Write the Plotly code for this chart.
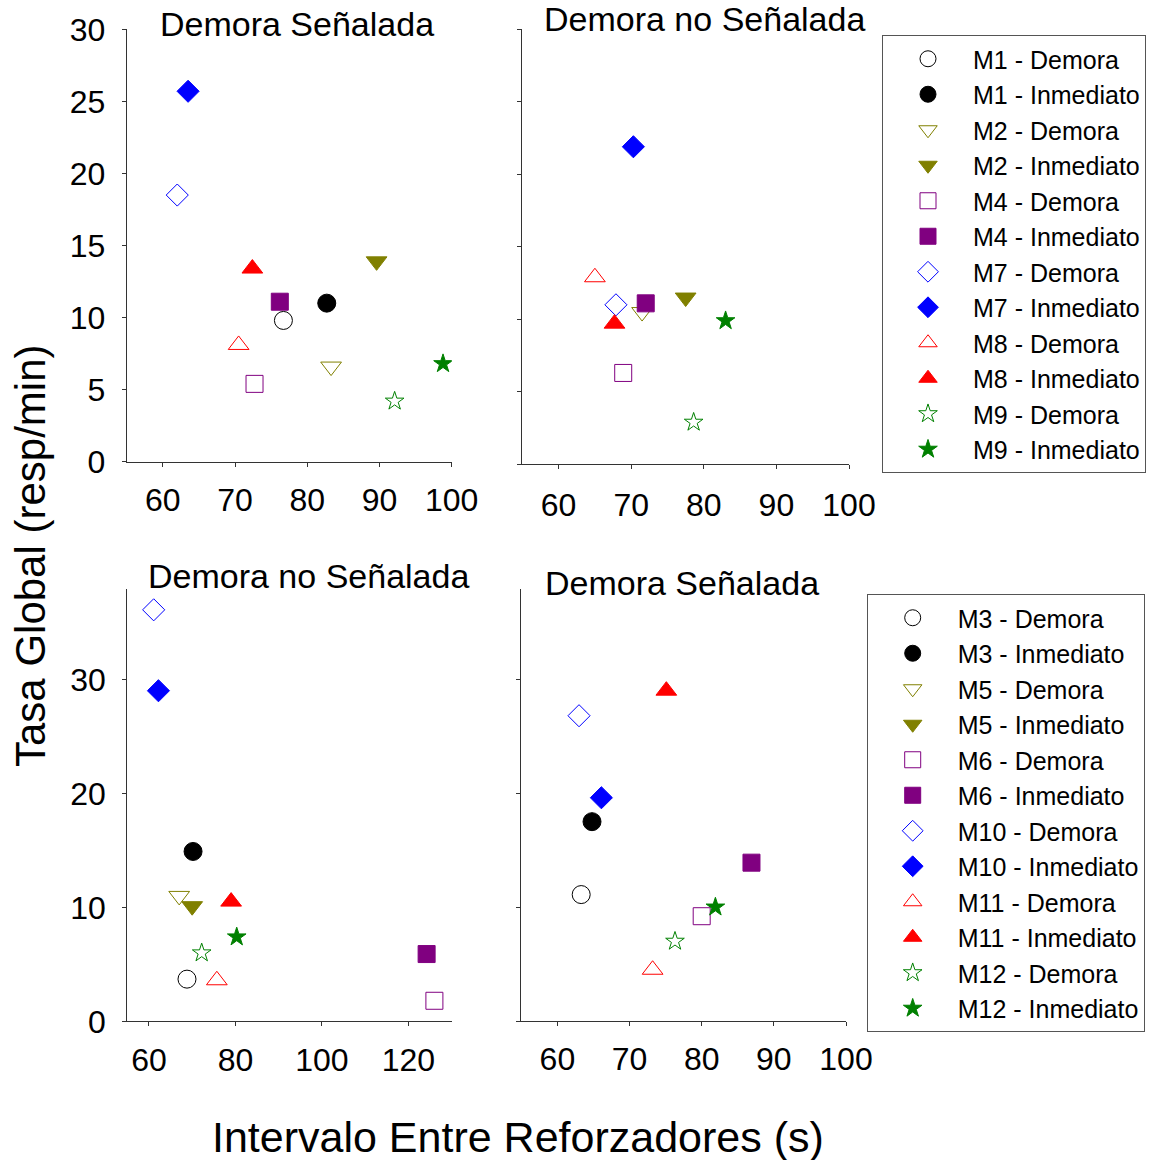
import plotly.graph_objects as go

# ---------------- data ----------------
subjects_top = ["M1", "M2", "M4", "M7", "M8", "M9"]
subjects_bottom = ["M3", "M5", "M6", "M10", "M11", "M12"]

# Panel 1: top-left "Demora Señalada"
p1_demora_x = [76.7, 83.3, 72.7, 62.0, 70.5, 92.1]
p1_demora_y = [9.8, 6.6, 5.4, 18.5, 8.1, 4.2]
p1_inmed_x = [82.7, 89.6, 76.2, 63.5, 72.4, 98.8]
p1_inmed_y = [11.0, 13.9, 11.1, 25.7, 13.4, 6.8]

# Panel 2: top-right "Demora no Señalada"
p2_demora_x = [None, 71.5, 68.9, 67.9, 65.0, 78.6]
p2_demora_y = [None, 10.5, 6.3, 11.0, 12.9, 2.9]
p2_inmed_x = [None, 77.5, 72.0, 70.3, 67.7, 83.0]
p2_inmed_y = [None, 11.5, 11.1, 21.9, 9.7, 9.9]

# Panel 3: bottom-left "Demora no Señalada"
p3_demora_x = [68.8, 67.0, 126.0, 61.1, 75.7, 72.2]
p3_demora_y = [3.7, 11.0, 1.8, 36.1, 3.6, 6.0]
p3_inmed_x = [70.2, 70.0, 124.2, 62.2, 79.0, 80.3]
p3_inmed_y = [14.9, 10.1, 5.9, 29.0, 10.5, 7.4]

# Panel 4: bottom-right "Demora Señalada"
p4_demora_x = [63.3, None, 80.0, 63.0, 73.2, 76.3]
p4_demora_y = [11.1, None, 9.2, 26.8, 4.5, 7.0]
p4_inmed_x = [64.8, None, 86.9, 66.1, 75.1, 81.9]
p4_inmed_y = [17.5, None, 13.9, 19.6, 29.0, 10.0]

subject_colors = ["#000000", "#808000", "#800080", "#0000FF", "#FF0000", "#008000"]
subject_symbols = ["circle", "triangle-down", "square", "diamond", "triangle-up", "star"]
marker_sizes = [18, 18, 17, 17, 18, 14]

panel_titles = ["Demora Señalada", "Demora no Señalada", "Demora no Señalada", "Demora Señalada"]
cond_labels = ["Demora", "Inmediato"]

FONT = "Liberation Sans, Arial, sans-serif"
W, H = 1167, 1160

fig = go.Figure()

panels = [
    ("x", "y", subjects_top, p1_demora_x, p1_demora_y, p1_inmed_x, p1_inmed_y, "legend", True),
    ("x2", "y2", subjects_top, p2_demora_x, p2_demora_y, p2_inmed_x, p2_inmed_y, "legend", False),
    ("x3", "y3", subjects_bottom, p3_demora_x, p3_demora_y, p3_inmed_x, p3_inmed_y, "legend2", True),
    ("x4", "y4", subjects_bottom, p4_demora_x, p4_demora_y, p4_inmed_x, p4_inmed_y, "legend2", False),
]

for xa, ya, subs, dx, dy, ix, iy, leg, show in panels:
    for i, s in enumerate(subs):
        for c, (xs, ys) in enumerate([(dx, dy), (ix, iy)]):
            sym = subject_symbols[i] + ("-open" if c == 0 else "")
            col = subject_colors[i]
            fig.add_trace(go.Scatter(
                x=[xs[i]], y=[ys[i]], mode="markers",
                name=f"{s} - {cond_labels[c]}",
                legendgroup=f"{s}-{c}", showlegend=show, legend=leg,
                xaxis=xa, yaxis=ya,
                marker=dict(symbol=sym, size=marker_sizes[i], color=col,
                            line=dict(width=1, color=col)),
            ))

def px_x(p):
    return p / W

def px_y(p):
    return 1 - p / H

axis_common = dict(showline=True, linecolor="#333333", linewidth=1, ticks="outside",
                   ticklen=4, tickcolor="#333333", showgrid=False, zeroline=False,
                   tickfont=dict(family=FONT, size=32, color="black"))

legend_common = dict(xref="paper", yref="paper", xanchor="left", yanchor="top",
                     bgcolor="white", bordercolor="#555555", borderwidth=1,
                     font=dict(family=FONT, size=25, color="black"),
                     itemwidth=80, tracegroupgap=0)

fig.update_layout(
    width=W, height=H, margin=dict(l=0, r=0, t=0, b=0, autoexpand=False),
    paper_bgcolor="white", plot_bgcolor="white",
    font=dict(family=FONT, color="black"),
    xaxis=dict(domain=[px_x(126.7), px_x(451.7)], range=[55, 100], tickvals=[60, 70, 80, 90, 100],
               anchor="y", ticklabelstandoff=6, **axis_common),
    yaxis=dict(domain=[px_y(461.7), px_y(29.3)], range=[0, 30], tickvals=[0, 5, 10, 15, 20, 25, 30],
               anchor="x", ticklabelstandoff=10, **axis_common),
    xaxis2=dict(domain=[px_x(522.3), px_x(849)], range=[55, 100], tickvals=[60, 70, 80, 90, 100],
                anchor="y2", ticklabelstandoff=8, **axis_common),
    yaxis2=dict(domain=[px_y(464.3), px_y(29.3)], range=[0, 30], tickvals=[0, 5, 10, 15, 20, 25, 30],
                anchor="x2", showticklabels=False, **axis_common),
    xaxis3=dict(domain=[px_x(127.3), px_x(451.7)], range=[55, 130], tickvals=[60, 80, 100, 120],
                anchor="y3", ticklabelstandoff=6, **axis_common),
    yaxis3=dict(domain=[px_y(1021.3), px_y(589.3)], range=[0, 37.9], tickvals=[0, 10, 20, 30],
                anchor="x3", ticklabelstandoff=10, **axis_common),
    xaxis4=dict(domain=[px_x(521.3), px_x(846)], range=[55, 100], tickvals=[60, 70, 80, 90, 100],
                anchor="y4", ticklabelstandoff=6, **axis_common),
    yaxis4=dict(domain=[px_y(1021), px_y(589.3)], range=[0, 37.9], tickvals=[0, 10, 20, 30],
                anchor="x4", showticklabels=False, **axis_common),
    legend=dict(x=px_x(882), y=px_y(35), **legend_common),
    legend2=dict(x=px_x(866.7), y=px_y(594), **legend_common),
)

title_pos = [(296.7, 24), (704, 19), (308, 576), (682, 583)]
for t, (cx, cy) in zip(panel_titles, title_pos):
    fig.add_annotation(text=t, xref="paper", yref="paper", x=px_x(cx), y=px_y(cy),
                       xanchor="center", yanchor="middle", showarrow=False,
                       font=dict(family=FONT, size=34, color="black"))

fig.add_annotation(text="Intervalo Entre Reforzadores (s)", xref="paper", yref="paper",
                   x=px_x(518), y=px_y(1137), xanchor="center", yanchor="middle",
                   showarrow=False, font=dict(family=FONT, size=43, color="black"))
fig.add_annotation(text="Tasa Global (resp/min)", xref="paper", yref="paper",
                   x=px_x(30), y=px_y(556), xanchor="center", yanchor="middle", textangle=-90,
                   showarrow=False, font=dict(family=FONT, size=42, color="black"))

fig.write_html("out.html")
